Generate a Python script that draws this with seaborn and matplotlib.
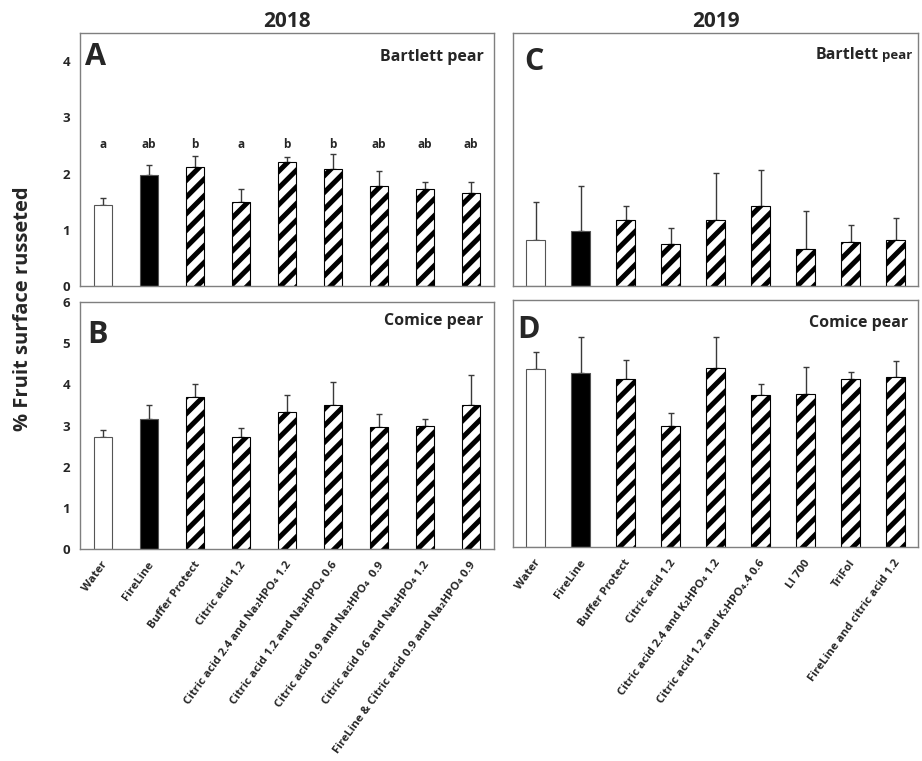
import numpy as np
import pandas as pd
import matplotlib
matplotlib.use("Agg")
import matplotlib.pyplot as plt
import seaborn as sns

FONT = ["Open Sans", "DejaVu Sans"]

sns.set_style("white")
plt.rcParams["font.family"] = FONT
plt.rcParams["font.weight"] = "bold"
plt.rcParams["hatch.linewidth"] = 3.6

# ---- data ----
treat_2018 = ["Water", "FireLine", "Buffer Protect", "Citric acid 1.2",
              "Citric acid 2.4 and Na\u2082HPO\u2084 1.2",
              "Citric acid 1.2 and Na\u2082HPO\u2084 0.6",
              "Citric acid 0.9 and Na\u2082HPO\u2084  0.9",
              "Citric acid 0.6 and Na\u2082HPO\u2084 1.2",
              "FireLine & Citric acid 0.9 and Na\u2082HPO\u2084 0.9"]
treat_2019 = ["Water", "FireLine", "Buffer Protect", "Citric acid 1.2",
              "Citric acid 2.4 and K\u2082HPO\u2084 1.2",
              "Citric acid 1.2 and K\u2082HPO\u2084.4 0.6",
              "LI 700", "TriFol", "FireLine and citric acid 1.2"]

bartlett_2018 = [1.44, 1.98, 2.11, 1.49, 2.20, 2.08, 1.78, 1.72, 1.65]
bartlett_2018_err = [0.13, 0.18, 0.21, 0.24, 0.10, 0.26, 0.27, 0.13, 0.20]
bartlett_2018_letters = ["a", "ab", "b", "a", "b", "b", "ab", "ab", "ab"]

comice_2018 = [2.73, 3.15, 3.69, 2.71, 3.33, 3.50, 2.97, 2.99, 3.50]
comice_2018_err = [0.16, 0.35, 0.31, 0.24, 0.42, 0.55, 0.32, 0.18, 0.72]

bartlett_2019 = [0.72, 0.87, 1.05, 0.66, 1.04, 1.27, 0.58, 0.70, 0.73]
bartlett_2019_err = [0.61, 0.71, 0.21, 0.25, 0.75, 0.57, 0.61, 0.27, 0.34]

comice_2019 = [4.32, 4.22, 4.07, 2.95, 4.34, 3.70, 3.71, 4.08, 4.13]
comice_2019_err = [0.41, 0.88, 0.48, 0.30, 0.75, 0.25, 0.66, 0.17, 0.38]

fill_colors = ["white", "black"] + ["white"] * 7
hatches = [None, None] + ["//"] * 7

W, H = 922, 761
fig = plt.figure(figsize=(W / 100, H / 100), dpi=100)


def axes_px(left, right, top, bottom):
    return fig.add_axes([left / W, 1 - bottom / H, (right - left) / W, (bottom - top) / H])


axA = axes_px(80, 494, 33, 286)
axB = axes_px(80, 494, 302, 549)
axC = axes_px(513, 918, 33, 286)
axD = axes_px(513, 918, 300, 547)

spine_col = "#7f7f7f"


def draw_panel(ax, cats, vals, errs, ylim, show_y, show_x, letter, letter_xy):
    df = pd.DataFrame({"treatment": cats, "value": vals})
    sns.barplot(data=df, x="treatment", y="value", hue="treatment",
                palette=dict(zip(cats, fill_colors)), legend=False,
                errorbar=None, width=0.41, ax=ax, zorder=2)
    for p, h in zip(ax.patches, hatches):
        p.set_edgecolor("black" if h else "#555555")
        p.set_linewidth(0.8)
        if h:
            p.set_hatch(h)
    x = np.arange(len(cats))
    v = np.asarray(vals)
    ax.errorbar(x, v, yerr=[np.zeros_like(v), np.asarray(errs)], fmt="none",
                ecolor="#3a3a3a", elinewidth=1.0, capsize=2, capthick=1.0, zorder=1)
    ax.set_ylim(*ylim)
    ax.set_xlim(-0.5, len(cats) - 0.5)
    ax.set_yticks(np.arange(0, ylim[1] + 0.01, 1))
    ax.set_xticks(np.arange(-0.5, len(cats), 1))
    ax.set_xlabel("")
    ax.set_ylabel("")
    ax.tick_params(axis="both", direction="out", length=4, width=0.8,
                   color=spine_col, labelsize=9.5, pad=3)
    ax.tick_params(axis="x", labelbottom=False)
    if not show_y:
        ax.tick_params(axis="y", labelleft=False)
    else:
        for t in ax.get_yticklabels():
            t.set_fontweight("bold")
    if show_x:
        for xi, lab in zip(x, cats):
            ax.annotate(lab, xy=(xi, 0), xycoords=("data", "axes fraction"),
                        xytext=(2, -10), textcoords="offset points",
                        rotation=54, rotation_mode="anchor", ha="right", va="center",
                        fontsize=8.2, fontweight="bold", family=FONT)
    for s in ax.spines.values():
        s.set_visible(True)
        s.set_color(spine_col)
        s.set_linewidth(1.0)
    ax.text(letter_xy[0], letter_xy[1], letter, transform=ax.transAxes,
            ha="left", va="baseline", fontsize=22, fontweight="bold")
    return ax


draw_panel(axA, treat_2018, bartlett_2018, bartlett_2018_err, (0, 4.5), True, False, "A", (0.012, 0.874))
draw_panel(axB, treat_2018, comice_2018, comice_2018_err, (0, 6), True, True, "B", (0.017, 0.834))
draw_panel(axC, treat_2019, bartlett_2019, bartlett_2019_err, (0, 4), False, False, "C", (0.027, 0.854))
draw_panel(axD, treat_2019, comice_2019, comice_2019_err, (0, 6), False, True, "D", (0.01, 0.846))

# significance letters above the 2018 Bartlett bars
for xi, lab in enumerate(bartlett_2018_letters):
    axA.text(xi, 2.52, lab, ha="center", va="center", fontsize=8.5, fontweight="bold")

# fruit labels
axA.text(0.975, 0.905, "Bartlett pear", transform=axA.transAxes, ha="right", va="center",
         fontsize=11.5, fontweight="bold")
axB.text(0.975, 0.925, "Comice pear", transform=axB.transAxes, ha="right", va="center",
         fontsize=11.5, fontweight="bold")
axD.text(0.975, 0.905, "Comice pear", transform=axD.transAxes, ha="right", va="center",
         fontsize=11.5, fontweight="bold")
tp = axC.text(0.985, 0.913, "pear", transform=axC.transAxes, ha="right", va="center",
              fontsize=9.5, fontweight="bold")
fig.canvas.draw()
bb = tp.get_window_extent()
inv = axC.transAxes.inverted()
x0 = inv.transform((bb.x0 - 3, bb.y0))[0]
axC.text(x0, 0.913, "Bartlett", transform=axC.transAxes, ha="right", va="center",
         fontsize=11.5, fontweight="bold")

# year headers
axA.set_title("2018", fontsize=15, fontweight="bold", pad=4)
axC.set_title("2019", fontsize=15, fontweight="bold", pad=4)

fig.text(0.025, 0.594, "% Fruit surface russeted", rotation=90, ha="center", va="center",
         fontsize=14.5, fontweight="bold")

fig.savefig("out.png", dpi=100)
